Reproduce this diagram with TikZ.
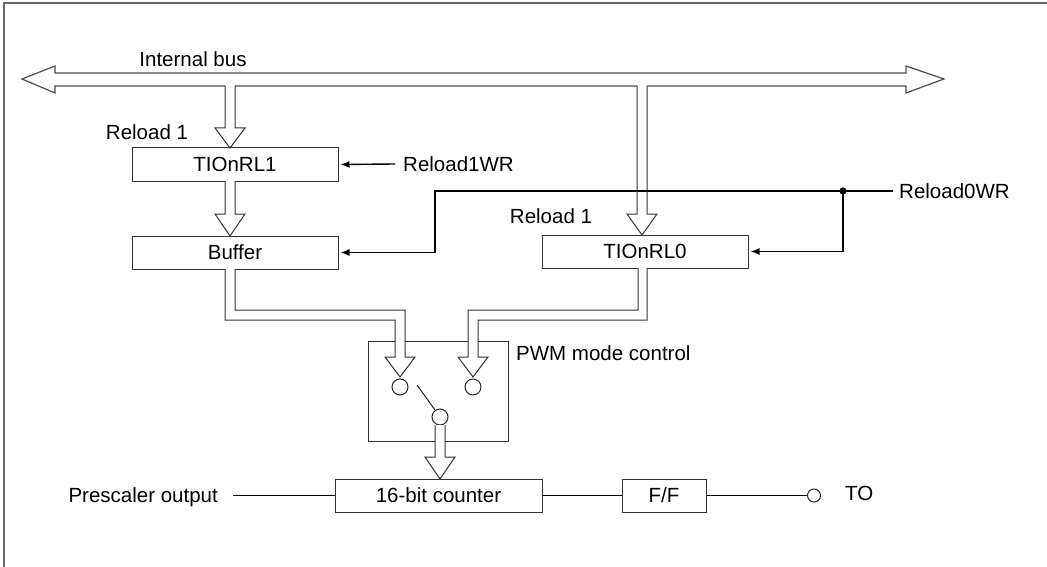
\documentclass[tikz,border=0pt]{standalone}
\usepackage{fontspec}
\setmainfont{Liberation Sans}
\usetikzlibrary{arrows.meta,calc}
\newcommand\dfont{\fontsize{20.5}{24}\selectfont}
\begin{document}
\begin{tikzpicture}[x=1pt,y=-1pt,line join=miter,
  box/.style={draw=black!80,line width=1pt,fill=white,minimum width=206pt,minimum height=33pt,inner sep=0pt,font=\dfont,text height=14.7pt,text depth=0pt},
  lab/.style={inner sep=0pt,font=\dfont,text height=14.7pt,text depth=0pt},
  sig/.style={draw=black,line width=1.4pt},
  sigarrow/.style={sig,-{Latex[length=9pt,width=7pt]},shorten >=2pt},
  hol/.style={draw=black!80,line width=1pt,fill=white},
  ring/.style={circle,draw=black!85,line width=1pt,fill=white,minimum size=16pt,inner sep=0pt}]
\useasboundingbox (0,0) rectangle (1047,567);
% frame (top and left edges)
\draw[black!60,line width=1.5pt] (4,567) -- (4,3) -- (1047,3);

% internal bus
\draw[hol,draw=black!70,line width=1.2pt] (22,79) -- (55,66) -- (55,73) -- (906,73) -- (906,66) -- (944,79) -- (906,93) -- (906,86) -- (55,86) -- (55,93) -- cycle;
\node[lab] (busl) at (193,59) {Internal bus};

% boxes
\node[box] (rl1) at (235,164.5) {TIOnRL1};
\node[box] (buf) at (235,252.5) {Buffer};
\node[box] (rl0) at (645,251.5) {TIOnRL0};
\node[draw=black!80,line width=1pt,minimum width=140pt,minimum height=100pt,inner sep=0pt] (pwm) at (438,391) {};
\node[box,minimum width=207pt] (cnt) at (438.5,495.5) {16-bit counter};
\node[box,minimum width=84pt] (ff) at (664,495.5) {F/F};

% labels
\node[lab] (rel1a) at (147,132) {Reload 1};
\node[lab] (rel1b) at (551,216) {Reload 1};
\node[lab,anchor=west] (pwml) at (516,353) {PWM mode control};

% hollow arrows from bus
\fill[white] (225,84) rectangle (235,128);
\draw[hol] (225,86) -- (225,128) -- (215,128) -- (230,148) -- (245,128) -- (235,128) -- (235,86);
\fill[white] (637,84) rectangle (647,214);
\draw[hol] (637,86) -- (637,214) -- (627,214) -- (642,235) -- (657,214) -- (647,214) -- (647,86);
% TIOnRL1 -> Buffer
\draw[hol] (225,181) -- (225,214) -- (215,214) -- (230,236) -- (245,214) -- (235,214) -- (235,181);

% paths to PWM switch
\draw[hol] (225,269) -- (225,320) -- (395,320) -- (395,357) -- (385,357) -- (400,377) -- (415,357) -- (405,357) -- (405,310) -- (235,310) -- (235,269);
\draw[hol] (647,268) -- (647,320) -- (478,320) -- (478,357) -- (488,357) -- (473,377) -- (458,357) -- (468,357) -- (468,310) -- (638,310) -- (638,268);

% switch
\node[ring] (c1) at (400,387) {};
\node[ring] (c2) at (473,387) {};
\node[ring] (c3) at (440,417) {};
\coordinate (sw) at (417,385);
\draw[black!85,line width=1pt] (sw) -- (c3);
% switch -> counter
\draw[hol] (435,425) -- (435,457) -- (425,457) -- (440,479) -- (455,457) -- (445,457) -- (445,425);

% write signals
\node[lab,anchor=west,inner xsep=8pt] (r1wr) at (395,164) {Reload1WR};
\draw[sigarrow] (r1wr.west) -- (rl1.east);
\node[lab,anchor=west,inner xsep=6pt] (r0wr) at (893,191) {Reload0WR};
\coordinate (j) at (843,191);
\coordinate (k) at (435,191);
\draw[sig] (r0wr.west) -- (j);
\draw[sigarrow] (j) -- (k) |- (buf.east);
\draw[sigarrow] (j) |- (rl0.east);
\fill (j) circle (3.6pt);

% bottom chain
\node[lab,anchor=east,inner xsep=15pt] (pre) at (233,495.5) {Prescaler output};
\node[circle,draw=black!85,line width=1pt,minimum size=13pt,inner sep=0pt] (to) at (814,495.5) {};
\node[lab,anchor=west] (tol) at (845,493) {TO};
\draw[sig,line width=1.4pt] (pre.east) -- (cnt.west);
\draw[sig,line width=1.4pt] (cnt.east) -- (ff.west);
\draw[sig,line width=1.4pt] (ff.east) -- (to.west);
\end{tikzpicture}
\end{document}
